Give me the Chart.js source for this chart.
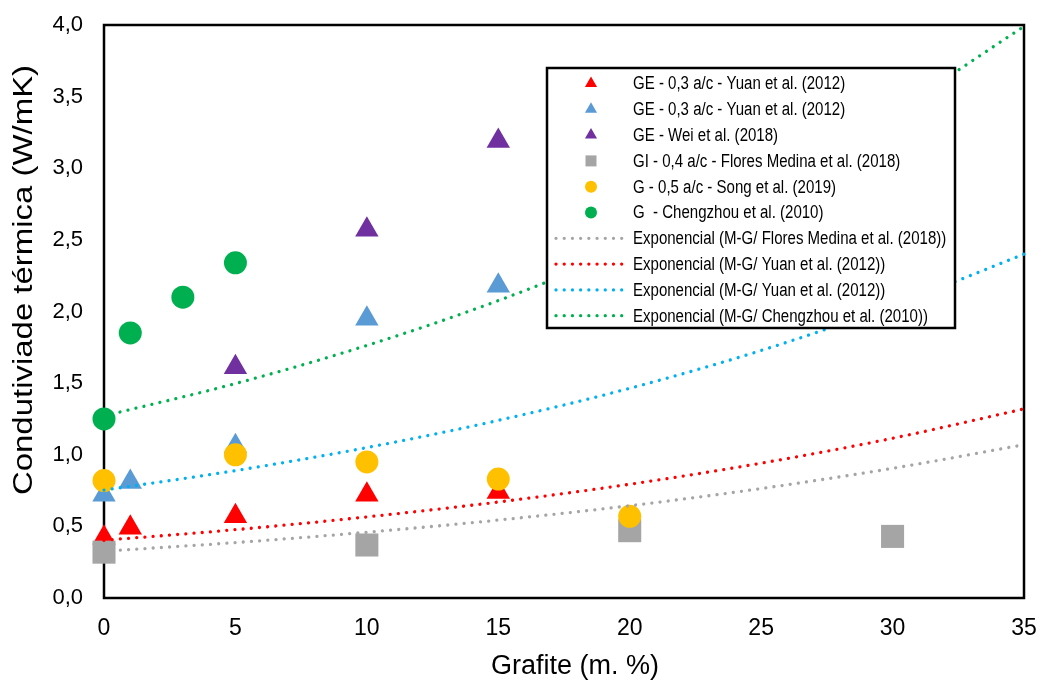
<!DOCTYPE html>
<html>
<head>
<meta charset="utf-8">
<script src="https://cdn.jsdelivr.net/npm/chart.js@4/dist/chart.umd.min.js"></script>
<style>
  html, body { margin: 0; padding: 0; background: #fff; }
  #wrap { width: 1041px; height: 680px; }
</style>
</head>
<body>
<div id="wrap"><canvas id="chart" width="1041" height="680"></canvas></div>
<script>
// values
const xTickLabels = ["0", "5", "10", "15", "20", "25", "30", "35"];
const yTickLabels = ["0,0", "0,5", "1,0", "1,5", "2,0", "2,5", "3,0", "3,5", "4,0"];
const xTitle = "Grafite (m. %)";
const yTitle = "Condutiviade térmica (W/mK)";

const labels = [
  "GE - 0,3 a/c - Yuan et al. (2012)",
  "GE - 0,3 a/c - Yuan et al. (2012)",
  "GE - Wei et al. (2018)",
  "GI - 0,4 a/c - Flores Medina et al. (2018)",
  "G - 0,5 a/c - Song et al. (2019)",
  "G  - Chengzhou et al. (2010)",
  "Exponencial (M-G/ Flores Medina et al. (2018))",
  "Exponencial (M-G/ Yuan et al. (2012))",
  "Exponencial (M-G/ Yuan et al. (2012))",
  "Exponencial (M-G/ Chengzhou et al. (2010))"
];

const yuanRedX = [0, 1, 5, 10, 15];
const yuanRedY = [0.42, 0.49, 0.57, 0.72, 0.74];
const yuanBlueX = [0, 1, 5, 10, 15];
const yuanBlueY = [0.72, 0.81, 1.06, 1.95, 2.18];
const weiX = [5, 10, 15];
const weiY = [1.61, 2.57, 3.19];
const floresX = [0, 10, 20, 30];
const floresY = [0.32, 0.37, 0.47, 0.43];
const songX = [0, 5, 10, 15, 20];
const songY = [0.82, 1.00, 0.95, 0.83, 0.57];
const chengX = [0, 1, 3, 5];
const chengY = [1.25, 1.85, 2.10, 2.34];

// trendlines, read at every x tick
const trendX = [0, 5, 10, 15, 20, 25, 30, 35];
const trendFlores = [0.327, 0.387, 0.459, 0.544, 0.644, 0.764, 0.905, 1.07];
const trendYuanRed = [0.403, 0.477, 0.566, 0.670, 0.794, 0.941, 1.115, 1.32];
const trendYuanBlue = [0.753, 0.889, 1.050, 1.240, 1.464, 1.728, 2.040, 2.40];
const trendCheng = [1.271, 1.497, 1.763, 2.076, 2.445, 2.880, 3.391, 3.99];

const pts = (xs, ys) => xs.map((x, i) => ({ x: x, y: ys[i] }));

const marker = (i, xs, ys, style, color, radius) => ({
  label: labels[i],
  data: pts(xs, ys),
  pointStyle: style,
  pointRadius: radius,
  pointHoverRadius: radius,
  backgroundColor: color,
  borderColor: color,
  pointBorderWidth: 0,
  showLine: false,
  clip: false,
  order: 20 - i
});

const trend = (i, ys, color) => ({
  label: labels[i],
  data: pts(trendX, ys),
  showLine: true,
  pointRadius: 0,
  pointHoverRadius: 0,
  borderColor: color,
  backgroundColor: color,
  borderWidth: 3.3,
  borderDash: [0.01, 8.2],
  borderCapStyle: "round",
  cubicInterpolationMode: "monotone",
  clip: false,
  order: 5 - (i - 6)
});

const datasets = [
  marker(0, yuanRedX, yuanRedY, "triangle", "#FF0000", 13.5),
  marker(1, yuanBlueX, yuanBlueY, "triangle", "#5B9BD5", 13.5),
  marker(2, weiX, weiY, "triangle", "#7030A0", 13.5),
  marker(3, floresX, floresY, "rect", "#A5A5A5", 16.3),
  marker(4, songX, songY, "circle", "#FFC000", 11.5),
  marker(5, chengX, chengY, "circle", "#00B050", 11.5),
  trend(6, trendFlores, "#A5A5A5"),
  trend(7, trendYuanRed, "#FF0000"),
  trend(8, trendYuanBlue, "#00B0F0"),
  trend(9, trendCheng, "#00B050")
];

// black frame round the plot area
const frame = {
  id: "frame",
  beforeDatasetsDraw(chart) {
    const a = chart.chartArea;
    const ctx = chart.ctx;
    ctx.save();
    ctx.strokeStyle = "#000";
    ctx.lineWidth = 2.5;
    ctx.strokeRect(a.left, a.top, a.right - a.left, a.bottom - a.top);
    ctx.restore();
  }
};

// axis titles, stretched a little like the original
const axisTitles = {
  id: "axisTitles",
  afterDraw(chart) {
    const ctx = chart.ctx;
    ctx.save();
    ctx.fillStyle = "#000";
    ctx.textAlign = "center";
    ctx.textBaseline = "alphabetic";

    ctx.font = '27px "Liberation Sans", Arial, sans-serif';
    ctx.fillText(xTitle, 575, 674);

    ctx.translate(32, 280);
    ctx.rotate(-Math.PI / 2);
    ctx.scale(1.22, 1);
    ctx.font = '27px "Liberation Sans", Arial, sans-serif';
    ctx.fillText(yTitle, 0, 0);
    ctx.restore();
  }
};

// legend box drawn inside the plot, like the spreadsheet one
const boxLegend = {
  id: "boxLegend",
  afterDatasetsDraw(chart) {
    const ctx = chart.ctx;
    const left = 547, top = 68, w = 408, h = 260;
    const rowY = 83.5, rowH = 25.8;
    const markX = 591, textX = 633;
    ctx.save();
    ctx.fillStyle = "#fff";
    ctx.fillRect(left, top, w, h);
    ctx.strokeStyle = "#000";
    ctx.lineWidth = 2.5;
    ctx.strokeRect(left, top, w, h);

    chart.data.datasets.forEach((ds, i) => {
      const y = rowY + i * rowH;
      ctx.fillStyle = ds.backgroundColor;
      ctx.strokeStyle = ds.borderColor;
      if (ds.showLine) {
        ctx.beginPath();
        ctx.lineWidth = 3.3;
        ctx.lineCap = "round";
        ctx.setLineDash([0.01, 8.2]);
        ctx.moveTo(556, y);
        ctx.lineTo(626, y);
        ctx.stroke();
        ctx.setLineDash([]);
      } else if (ds.pointStyle === "triangle") {
        const r = 7;
        ctx.beginPath();
        ctx.moveTo(markX, y - r);
        ctx.lineTo(markX + r * 0.866, y + r / 2);
        ctx.lineTo(markX - r * 0.866, y + r / 2);
        ctx.closePath();
        ctx.fill();
      } else if (ds.pointStyle === "rect") {
        ctx.fillRect(markX - 5.5, y - 5.5, 11, 11);
      } else {
        ctx.beginPath();
        ctx.arc(markX, y, 6, 0, Math.PI * 2);
        ctx.fill();
      }
      // condensed text
      ctx.save();
      ctx.translate(textX, y);
      ctx.scale(0.835, 1);
      ctx.fillStyle = "#000";
      ctx.font = '18px "Liberation Sans", Arial, sans-serif';
      ctx.textBaseline = "middle";
      ctx.textAlign = "left";
      ctx.fillText(ds.label, 0, 1);
      ctx.restore();
    });
    ctx.restore();
  }
};

// keep tick labels from pushing the plot area inwards
const noEdgePadding = (s) => {
  s.paddingTop = 0;
  s.paddingBottom = 0;
  s.paddingLeft = 0;
  s.paddingRight = 0;
};

Chart.defaults.font.family = '"Liberation Sans", Arial, sans-serif';
Chart.defaults.color = "#000";

new Chart(document.getElementById("chart"), {
  type: "scatter",
  data: { datasets: datasets },
  options: {
    responsive: false,
    animation: false,
    layout: { padding: { top: 25, right: 17, left: 0, bottom: 0 } },
    plugins: { legend: { display: false }, tooltip: { enabled: false } },
    scales: {
      x: {
        type: "linear",
        min: 0,
        max: 35,
        grid: { display: false, drawTicks: false },
        border: { display: false },
        ticks: {
          stepSize: 5,
          padding: 17,
          font: { size: 23 },
          callback: (v, i) => xTickLabels[i]
        },
        title: { display: false },
        afterFit: (s) => { s.height = 82; noEdgePadding(s); }
      },
      y: {
        type: "linear",
        min: 0,
        max: 4,
        grid: { display: false, drawTicks: false },
        border: { display: false },
        ticks: {
          stepSize: 0.5,
          padding: 21,
          font: { size: 22 },
          callback: (v, i) => yTickLabels[i]
        },
        title: { display: false },
        afterFit: (s) => { s.width = 104; noEdgePadding(s); }
      }
    }
  },
  plugins: [frame, boxLegend, axisTitles]
});
</script>
</body>
</html>
